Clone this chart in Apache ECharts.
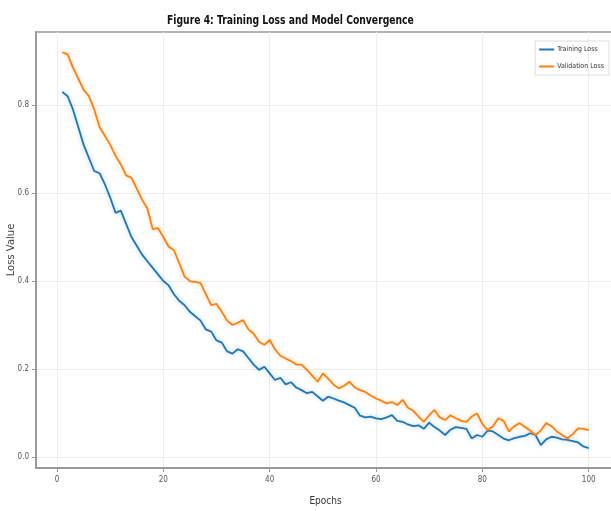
<!DOCTYPE html>
<html>
<head>
<meta charset="utf-8">
<script src="https://cdn.jsdelivr.net/npm/echarts@6/dist/echarts.min.js"></script>
<style>
  html, body { margin: 0; padding: 0; background: #fff; }
  #chart { width: 611px; height: 511px; }
</style>
</head>
<body>
<div id="chart"></div>
<script>
// epochs 1..100
var epochs = [];
for (var e = 1; e <= 100; e++) epochs.push(e);

var trainingLoss = [
  0.83, 0.82, 0.79, 0.75, 0.71, 0.68, 0.65, 0.645, 0.62, 0.59,
  0.555, 0.56, 0.53, 0.50, 0.48, 0.46, 0.445, 0.43, 0.415, 0.40,
  0.39, 0.37, 0.355, 0.345, 0.33, 0.32, 0.31, 0.29, 0.285, 0.265,
  0.26, 0.24, 0.235, 0.245, 0.24, 0.225, 0.21, 0.198, 0.205, 0.19,
  0.175, 0.18, 0.165, 0.17, 0.158, 0.152, 0.145, 0.148, 0.138, 0.128,
  0.137, 0.133, 0.128, 0.124, 0.118, 0.112, 0.094, 0.09, 0.092, 0.088,
  0.086, 0.09, 0.095, 0.082, 0.08, 0.074, 0.07, 0.072, 0.064, 0.078,
  0.068, 0.06, 0.05, 0.062, 0.068, 0.066, 0.064, 0.042, 0.05, 0.046,
  0.06, 0.058, 0.05, 0.042, 0.038, 0.043, 0.046, 0.048, 0.054, 0.05,
  0.027, 0.04, 0.046, 0.044, 0.04, 0.039, 0.036, 0.033, 0.024, 0.02
];

var validationLoss = [
  0.92, 0.915, 0.885, 0.86, 0.835, 0.82, 0.79, 0.75, 0.73, 0.71,
  0.685, 0.665, 0.64, 0.635, 0.61, 0.585, 0.565, 0.518, 0.52, 0.5,
  0.478, 0.47, 0.44, 0.41, 0.4, 0.398, 0.395, 0.37, 0.345, 0.348,
  0.33, 0.31, 0.30, 0.305, 0.311, 0.29, 0.28, 0.262, 0.255, 0.266,
  0.245, 0.23, 0.224, 0.218, 0.21, 0.21, 0.198, 0.185, 0.171, 0.19,
  0.178, 0.165, 0.156, 0.162, 0.171, 0.158, 0.152, 0.148, 0.14, 0.133,
  0.128, 0.122, 0.125, 0.118, 0.13, 0.112, 0.105, 0.092, 0.08, 0.095,
  0.107, 0.09, 0.084, 0.095, 0.088, 0.082, 0.08, 0.092, 0.099, 0.075,
  0.061, 0.07, 0.088, 0.082, 0.058, 0.07, 0.077, 0.068, 0.06, 0.05,
  0.06, 0.077, 0.07, 0.058, 0.05, 0.042, 0.052, 0.065, 0.064, 0.061
];

var xTicks = [0, 20, 40, 60, 80, 100];
var yTicks = [0.0, 0.2, 0.4, 0.6, 0.8];

function pairs(ys) {
  var out = [];
  for (var i = 0; i < ys.length; i++) out.push([epochs[i], ys[i]]);
  return out;
}

var chart = echarts.init(document.getElementById('chart'));
var cond = '"DejaVu Sans Condensed", "DejaVu Sans", sans-serif';

chart.setOption({
  animation: false,
  backgroundColor: '#fff',
  // title drawn as graphic text so it can be squeezed like the reference
  graphic: [{
    type: 'text',
    x: 167,
    y: 14,
    scaleX: 0.71,
    style: {
      text: 'Figure 4: Training Loss and Model Convergence',
      font: 'bold 13px "DejaVu Sans", sans-serif',
      fill: '#111'
    }
  }],
  legend: {
    orient: 'vertical',
    right: 2,
    top: 41,
    itemWidth: 15,
    itemHeight: 2,
    itemGap: 10,
    icon: 'rect',
    borderColor: '#ddd',
    borderWidth: 1,
    padding: [5, 5, 5, 4],
    textStyle: { fontFamily: cond, fontSize: 7, color: '#333', padding: [0, 0, 0, -2] },
    data: ['Training Loss', 'Validation Loss']
  },
  grid: {
    left: 36,
    right: -4,
    top: 32,
    bottom: 43,
    outerBoundsMode: 'none',
    containLabel: false,
    show: true,
    borderColor: '#999',
    borderWidth: 1.5
  },
  xAxis: {
    type: 'value',
    min: -3.95,
    max: 104.95,
    name: 'Epochs',
    nameLocation: 'middle',
    nameGap: 28,
    nameTextStyle: { fontFamily: cond, fontSize: 10, color: '#333' },
    axisLine: { show: true, onZero: false, lineStyle: { color: '#999', width: 2 } },
    axisTick: { show: true, customValues: xTicks, length: 4, lineStyle: { color: '#999' } },
    axisLabel: {
      customValues: xTicks,
      margin: 8,
      fontFamily: cond, fontSize: 8, color: '#555'
    },
    splitLine: { show: true, lineStyle: { color: '#eeeeee', width: 1 } }
  },
  yAxis: {
    type: 'value',
    min: -0.025,
    max: 0.966,
    name: 'Loss Value',
    nameLocation: 'middle',
    nameGap: 20,
    nameMoveOverlap: false,
    nameTextStyle: { fontFamily: 'DejaVu Sans, sans-serif', fontSize: 10, color: '#444' },
    axisLine: { show: true, onZero: false, lineStyle: { color: '#999', width: 2 } },
    axisTick: { show: true, customValues: yTicks, length: 4, lineStyle: { color: '#999' } },
    axisLabel: {
      customValues: yTicks,
      margin: 7,
      fontFamily: cond, fontSize: 8, color: '#555',
      formatter: function(v) { return v.toFixed(1); }
    },
    splitLine: { show: true, lineStyle: { color: '#eeeeee', width: 1 } }
  },
  series: [
    {
      name: 'Training Loss',
      type: 'line',
      showSymbol: false,
      color: '#1f77b4',
      lineStyle: { width: 1.8, color: '#1f77b4', shadowBlur: 4, shadowColor: 'rgba(31,119,180,0.35)' },
      data: pairs(trainingLoss)
    },
    {
      name: 'Validation Loss',
      type: 'line',
      showSymbol: false,
      color: '#ff7f0e',
      lineStyle: { width: 1.8, color: '#ff7f0e', shadowBlur: 4, shadowColor: 'rgba(255,127,14,0.35)' },
      data: pairs(validationLoss)
    }
  ]
});
</script>
</body>
</html>
